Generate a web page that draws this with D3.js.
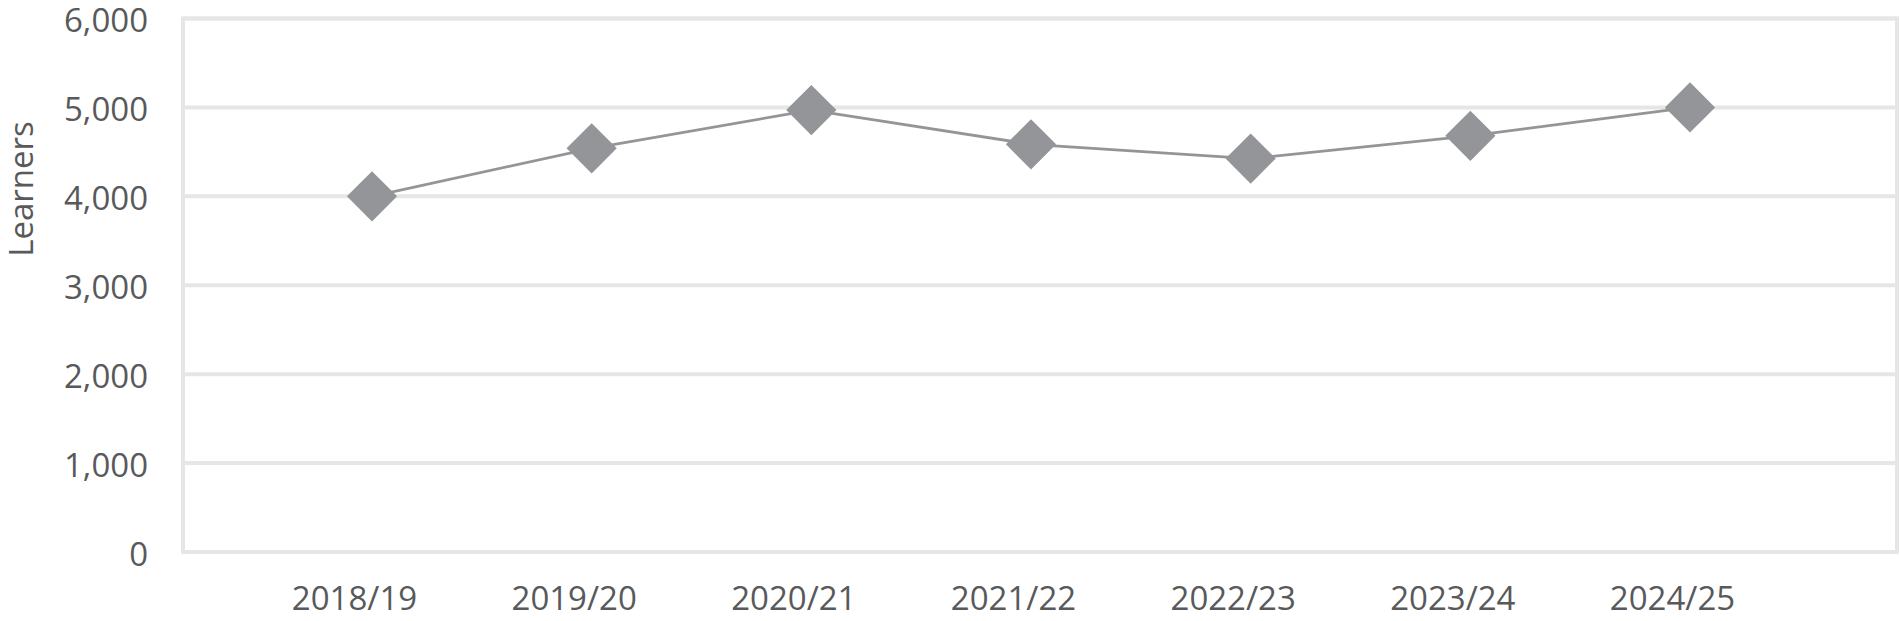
<!DOCTYPE html>
<html>
<head>
<meta charset="utf-8">
<script src="https://cdn.jsdelivr.net/npm/d3@7"></script>
<style>
  html, body { margin: 0; padding: 0; background: #fff; }
  svg { display: block; }
</style>
</head>
<body>
<svg id="chart" width="1900" height="621"></svg>
<script>
const categories = ["2018/19", "2019/20", "2020/21", "2021/22", "2022/23", "2023/24", "2024/25"];
const learners = [4000, 4540, 4970, 4585, 4425, 4680, 5000];
const yTicks = [0, 1000, 2000, 3000, 4000, 5000, 6000];
const yTitle = "Learners";

const W = 1900, H = 621;
const plot = { left: 183, right: 1897, top: 18.5, bottom: 552 };
const gridColor = "#e6e6e6";
const markColor = "#939598";
const textColor = "#58595b";
const font = "'Open Sans', sans-serif";
const fontSize = 33;

const svg = d3.select("#chart");

const x = d3.scalePoint().domain(categories).range([plot.left + 189, plot.right - 207]);
const y = d3.scaleLinear().domain([0, 6000]).range([plot.bottom, plot.top]);

// gridlines
svg.append("g").selectAll("line").data(yTicks).join("line")
  .attr("x1", plot.left).attr("x2", plot.right)
  .attr("y1", d => y(d)).attr("y2", d => y(d))
  .attr("stroke", gridColor).attr("stroke-width", 4);

// plot frame
svg.append("rect")
  .attr("x", plot.left).attr("y", plot.top)
  .attr("width", plot.right - plot.left).attr("height", plot.bottom - plot.top)
  .attr("fill", "none").attr("stroke", gridColor).attr("stroke-width", 4);

// y axis
const yAxis = svg.append("g")
  .attr("transform", `translate(${plot.left},0)`)
  .call(d3.axisLeft(y).tickValues(yTicks).tickSize(0).tickPadding(35).tickFormat(d3.format(",")));
yAxis.select(".domain").remove();
yAxis.selectAll("text")
  .attr("dy", "0.4em")
  .attr("font-family", font).attr("font-size", fontSize).attr("fill", textColor);

// x axis
const xAxis = svg.append("g")
  .attr("transform", `translate(-18,${plot.bottom})`)
  .call(d3.axisBottom(x).tickSize(0).tickPadding(34.5));
xAxis.select(".domain").remove();
xAxis.selectAll("text").attr("font-family", font).attr("font-size", fontSize).attr("fill", textColor);

// y title
svg.append("text")
  .attr("transform", `translate(33,189) rotate(-90)`)
  .attr("text-anchor", "middle")
  .attr("font-family", font).attr("font-size", fontSize).attr("fill", textColor)
  .text(yTitle);

// line
const data = categories.map((c, i) => ({ c, v: learners[i] }));
svg.append("path")
  .datum(data)
  .attr("fill", "none")
  .attr("stroke", markColor)
  .attr("stroke-width", 2.8)
  .attr("d", d3.line().x(d => x(d.c)).y(d => y(d.v)));

// diamond markers
const diamond = d3.symbol().type(d3.symbolSquare).size(35.5 * 35.5);
svg.append("g").selectAll("path").data(data).join("path")
  .attr("d", diamond)
  .attr("transform", d => `translate(${x(d.c)},${y(d.v)}) rotate(45)`)
  .attr("fill", markColor);
</script>
</body>
</html>
